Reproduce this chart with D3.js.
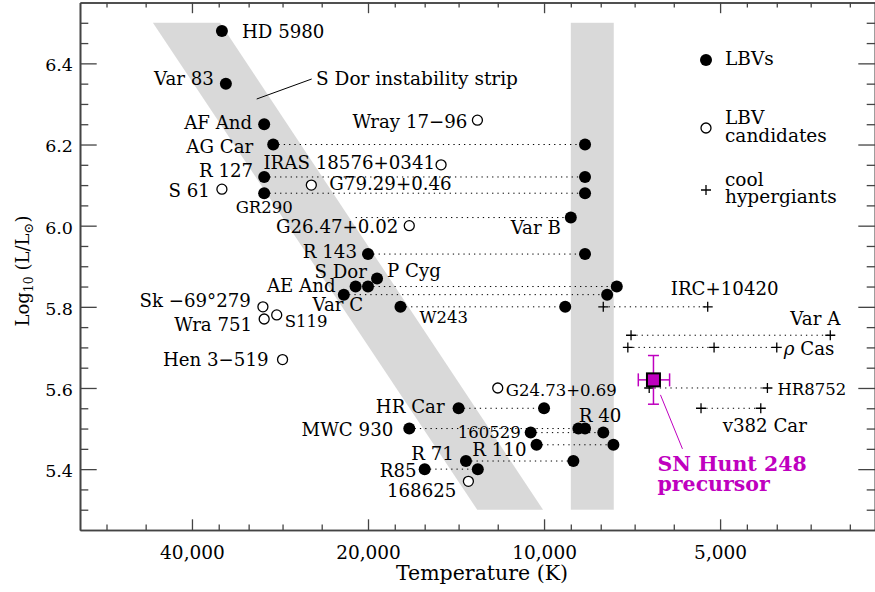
<!DOCTYPE html>
<html>
<head>
<meta charset="utf-8">
<script src="https://cdn.jsdelivr.net/npm/d3@7"></script>
<style>
  body { margin: 0; background: #fff; }
  svg text { font-family: 'DejaVu Serif', serif; fill: #000; }
  .axis path { stroke: #444; stroke-width: 1.6; }
  .axis line { stroke: #444; stroke-width: 1.3; }
  .axis text { font-family: 'DejaVu Serif', serif; }
</style>
</head>
<body>
<div id="chart"></div>
<script>
// ---- data ----
// LBVs, every drawn state (hot and cool states share a name)
let lbvName = ['HD 5980', 'Var 83', 'AF And', 'AG Car', 'AG Car', 'R 127', 'R 127', 'GR290', 'GR290',
  'Var B', 'R 143', 'R 143', 'P Cyg', 'S Dor', 'S Dor', 'AE And', 'Var C', 'Var C', 'W243', 'W243',
  'HR Car', 'HR Car', 'MWC 930', 'MWC 930', 'R 40', '160529', '160529', 'R 110', 'R 110',
  'R 71', 'R 71', 'R85', 'R85']
let lbvTemp = [35550, 35000, 30100, 29050, 8510, 30100, 8510, 30100, 8510,
  9000, 20000, 8510, 19300, 20000, 7510, 21000, 22000, 7800, 17600, 9200,
  14000, 10000, 17000, 8735, 8510, 10540, 7920, 10300, 7610,
  13600, 8910, 16000, 12980]
let lbvLum = [6.48, 6.35, 6.25, 6.20, 6.20, 6.12, 6.12, 6.08, 6.08,
  6.02, 5.93, 5.93, 5.87, 5.85, 5.85, 5.85, 5.83, 5.83, 5.80, 5.80,
  5.55, 5.55, 5.50, 5.50, 5.50, 5.49, 5.49, 5.46, 5.46,
  5.42, 5.42, 5.40, 5.40]

// Var B excursion starts where no symbol is drawn
let extraTracks = [{ name: 'Var B', from: 21000, to: 9000, lum: 6.02 }]

// LBV candidates
let candName = ['Wray 17\u221296', 'IRAS 18576+0341', 'S 61', 'G79.29+0.46', 'G26.47+0.02',
  'Sk \u221269\u00b0279', 'Wra 751', 'S119', 'Hen 3\u2212519', 'G24.73+0.69', '168625']
let candTemp = [13000, 15000, 35550, 25000, 17000, 30250, 30100, 28650, 28000, 12000, 13470]
let candLum = [6.26, 6.15, 6.09, 6.10, 6.00, 5.80, 5.77, 5.78, 5.67, 5.60, 5.37]

// cool hypergiants
let hgName = ['IRC+10420', 'Var A', '\u03c1 Cas', 'HR8752', 'v382 Car']
let hgTemps = [[7920, 5250], [7100, 3240], [7190, 5120, 4000], [6610, 4150], [5390, 4260]]
let hgLum = [5.80, 5.73, 5.70, 5.60, 5.55]

// SN Hunt 248 precursor
let snTemp = 6500
let snTempErr = 400
let snLum = 5.62
let snLumErr = 0.06

// shaded regions
let stripTop = { lum: 6.5, hot: 46650, cool: 35820 }
let stripBottom = { lum: 5.3, hot: 13010, cool: 10040 }
let bandTemp = [9000, 7600]
let bandLum = [5.3, 6.5]

// ticks
let xMajor = [40000, 20000, 10000, 5000]
let xMinor = [56000, 48000, 36000, 32000, 28000, 24000, 18000, 16000, 14000, 12000,
  9000, 8000, 7000, 6000, 4500, 4000, 3500, 3000]
let yMajor = [5.4, 5.6, 5.8, 6.0, 6.2, 6.4]
let yMinor = [5.30, 5.35, 5.45, 5.50, 5.55, 5.65, 5.70, 5.75, 5.85, 5.90, 5.95,
  6.05, 6.10, 6.15, 6.25, 6.30, 6.35, 6.45, 6.50]

// ---- layout ----
let width = 875
let height = 592
let plotLeft = 80, plotRight = 875, plotTop = 2.5, plotBottom = 530

// label placement: [dx, dy, anchor, small]
let labelPos = {
  'HD 5980': [20, 7, 'start'],
  'Var 83': [-12, 1, 'end'],
  'AF And': [-12, 5, 'end'],
  'AG Car': [-20, 8, 'end'],
  'R 127': [-11, 0, 'end'],
  'GR290': [0, 20, 'middle', true],
  'Var B': [-10, 16, 'end'],
  'R 143': [-11, 4, 'end'],
  'P Cyg': [10, -1, 'start'],
  'S Dor': [-1, -9, 'end'],
  'AE And': [-20, 5, 'end'],
  'Var C': [-6, 16, 'middle'],
  'W243': [19, 16, 'start', true],
  'HR Car': [-14, 5, 'end'],
  'MWC 930': [-16, 7, 'end'],
  'R 40': [15, -7, 'middle'],
  '160529': [-10, 5, 'end', true],
  'R 110': [-10, 11, 'end'],
  'R 71': [-12, -1, 'end'],
  'R85': [-8, 8, 'end'],
  'Wray 17\u221296': [-10, 8, 'end'],
  'IRAS 18576+0341': [-6, 4, 'end'],
  'S 61': [-12, 8, 'end'],
  'G79.29+0.46': [18, 5, 'start'],
  'G26.47+0.02': [-11, 7, 'end'],
  'Sk \u221269\u00b0279': [-12, 0, 'end'],
  'Wra 751': [-12, 12, 'end'],
  'S119': [8, 12, 'start', true],
  'Hen 3\u2212519': [-14, 6, 'end'],
  'G24.73+0.69': [8, 8, 'start', true],
  '168625': [-12, 16, 'end'],
  'IRC+10420': [-37, -12, 'start'],
  'Var A': [10, -10, 'end'],
  '\u03c1 Cas': [7, 8, 'start'],
  'HR8752': [10, 7, 'start', true],
  'v382 Car': [4, 24, 'middle']
}

let magenta = '#bf00bf'
let grey = '#d9d9d9'

let svg = d3
  .select('#chart')
  .append('svg')
  .attr('width', width)
  .attr('height', height)

let x = d3.scaleLog().domain([62160, 2717]).range([plotLeft, plotRight])
let y = d3.scaleLinear().domain([5.25, 6.55]).range([plotBottom, plotTop])

// shaded strips
svg
  .append('path')
  .attr('d', 'M' + [
    [x(stripTop.hot), y(stripTop.lum)],
    [x(stripTop.cool), y(stripTop.lum)],
    [x(stripBottom.cool), y(stripBottom.lum)],
    [x(stripBottom.hot), y(stripBottom.lum)]
  ].join('L') + 'Z')
  .attr('fill', grey)

svg
  .append('rect')
  .attr('x', x(bandTemp[0]))
  .attr('width', x(bandTemp[1]) - x(bandTemp[0]))
  .attr('y', y(bandLum[1]))
  .attr('height', y(bandLum[0]) - y(bandLum[1]))
  .attr('fill', grey)

// axes
function drawAxis(axis, transform, cls) {
  return svg.append('g').attr('class', 'axis ' + cls).attr('transform', transform).call(axis)
}

drawAxis(d3.axisBottom(x).tickValues(xMinor).tickSize(-5.5).tickSizeOuter(0).tickFormat(''),
  `translate(0,${plotBottom})`, 'minor')
drawAxis(d3.axisBottom(x).tickValues(xMajor).tickSize(-10.7).tickSizeOuter(0)
  .tickPadding(15.5).tickFormat(d3.format(',')), `translate(0,${plotBottom})`, 'xmajor')
drawAxis(d3.axisTop(x).tickValues(xMinor).tickSize(-5).tickSizeOuter(0).tickFormat(''),
  `translate(0,${plotTop})`, 'minor')
drawAxis(d3.axisTop(x).tickValues(xMajor).tickSize(-10.7).tickSizeOuter(0).tickFormat(''),
  `translate(0,${plotTop})`, 'minor')
drawAxis(d3.axisLeft(y).tickValues(yMinor).tickSize(-8.3).tickSizeOuter(0).tickFormat(''),
  `translate(${plotLeft},0)`, 'minor')
drawAxis(d3.axisLeft(y).tickValues(yMajor).tickSize(-16.7).tickSizeOuter(0)
  .tickPadding(7).tickFormat(d3.format('.1f')), `translate(${plotLeft},0)`, 'ymajor')
drawAxis(d3.axisRight(y).tickValues(yMinor).tickSize(-8.3).tickSizeOuter(0).tickFormat(''),
  `translate(${plotRight},0)`, 'minor')
drawAxis(d3.axisRight(y).tickValues(yMajor).tickSize(-16.7).tickSizeOuter(0).tickFormat(''),
  `translate(${plotRight},0)`, 'minor')

svg.selectAll('.xmajor text').attr('font-size', 18.5).attr('dy', '0.71em')
svg.selectAll('.ymajor text').attr('font-size', 17.5).attr('dy', '0.42em')

// axis titles
svg
  .append('text')
  .attr('x', 482)
  .attr('y', 580)
  .attr('text-anchor', 'middle')
  .attr('font-size', 20.5)
  .text('Temperature (K)')

let ylab = svg
  .append('text')
  .attr('transform', 'translate(29,271) rotate(-90)')
  .attr('text-anchor', 'middle')
  .attr('font-size', 18)
ylab.append('tspan').text('Log')
ylab.append('tspan').attr('font-size', 12.5).attr('dy', 4).text('10')
ylab.append('tspan').attr('dy', -4).text(' (L/L')
ylab.append('tspan').attr('font-size', 13).attr('dy', 4).text('\u2299')
ylab.append('tspan').attr('dy', -4).text(')')

// dotted excursion lines
let lbv = lbvName.map((d, i) => ({ name: d, temp: lbvTemp[i], lum: lbvLum[i] }))
let tracks = d3.groups(lbv, d => d.name)
  .filter(g => g[1].length > 1)
  .map(g => ({ name: g[0], from: d3.max(g[1], d => d.temp), to: d3.min(g[1], d => d.temp), lum: g[1][0].lum }))
  .concat(extraTracks)
  .concat(hgName.map((d, i) => ({ name: d, from: d3.max(hgTemps[i]), to: d3.min(hgTemps[i]), lum: hgLum[i] })))

svg
  .selectAll('.track')
  .data(tracks)
  .enter()
  .append('line')
  .attr('class', 'track')
  .attr('x1', d => x(d.from))
  .attr('x2', d => x(d.to))
  .attr('y1', d => y(d.lum))
  .attr('y2', d => y(d.lum))
  .attr('stroke', '#000')
  .attr('stroke-width', 1)
  .attr('stroke-dasharray', '1.3,4')

// cool hypergiants
let hg = []
hgName.forEach((d, i) => hgTemps[i].forEach(t => hg.push({ name: d, temp: t, lum: hgLum[i] })))

svg
  .selectAll('.hg')
  .data(hg)
  .enter()
  .append('path')
  .attr('class', 'hg')
  .attr('d', 'M-5,0H5M0,-5V5')
  .attr('transform', d => `translate(${x(d.temp)},${y(d.lum)})`)
  .attr('stroke', '#000')
  .attr('stroke-width', 1.3)

// LBV candidates
svg
  .selectAll('.cand')
  .data(candName)
  .enter()
  .append('circle')
  .attr('class', 'cand')
  .attr('cx', (d, i) => x(candTemp[i]))
  .attr('cy', (d, i) => y(candLum[i]))
  .attr('r', 5)
  .attr('fill', '#fff')
  .attr('stroke', '#000')
  .attr('stroke-width', 1.3)

// LBVs
svg
  .selectAll('.lbv')
  .data(lbv)
  .enter()
  .append('circle')
  .attr('class', 'lbv')
  .attr('cx', d => x(d.temp))
  .attr('cy', d => y(d.lum))
  .attr('r', 6)
  .attr('fill', '#000')

// labels, attached to first LBV state, candidate, coolest hypergiant point
let labelAnchors = []
d3.groups(lbv, d => d.name).forEach(g => labelAnchors.push(g[1][0]))
candName.forEach((d, i) => labelAnchors.push({ name: d, temp: candTemp[i], lum: candLum[i] }))
hgName.forEach((d, i) => labelAnchors.push({ name: d, temp: d3.min(hgTemps[i]), lum: hgLum[i] }))

let labels = svg
  .selectAll('.label')
  .data(labelAnchors)
  .enter()
  .append('text')
  .attr('class', 'label')
  .attr('x', d => x(d.temp) + labelPos[d.name][0])
  .attr('y', d => y(d.lum) + labelPos[d.name][1])
  .attr('text-anchor', d => labelPos[d.name][2])
  .attr('font-size', d => labelPos[d.name][3] ? 16.5 : 18.2)

labels.each(function (d) {
  let t = d3.select(this)
  if (d.name.startsWith('\u03c1')) {
    t.append('tspan').attr('font-style', 'italic').text('\u03c1')
    t.append('tspan').text(d.name.slice(1))
  } else {
    t.text(d.name)
  }
})

// S Dor strip annotation
svg
  .append('line')
  .attr('x1', 311.7).attr('y1', 79)
  .attr('x2', 256.7).attr('y2', 99)
  .attr('stroke', '#000')
  .attr('stroke-width', 1)
svg
  .append('text')
  .attr('x', 316)
  .attr('y', 85)
  .attr('font-size', 18.5)
  .text('S Dor instability strip')

// SN Hunt 248 precursor with error bars
let sx = x(snTemp), sy = y(snLum)
let xl = x(snTemp + snTempErr), xr = x(snTemp - snTempErr)
let yt = y(snLum + snLumErr), yb = y(snLum - snLumErr)
let sn = svg.append('g').attr('stroke', magenta).attr('stroke-width', 1.5)
sn.append('line').attr('x1', xl).attr('x2', xr).attr('y1', sy).attr('y2', sy)
sn.append('line').attr('x1', sx).attr('x2', sx).attr('y1', yt).attr('y2', yb)
sn.append('line').attr('x1', xl).attr('x2', xl).attr('y1', sy - 6.5).attr('y2', sy + 6.5)
sn.append('line').attr('x1', xr).attr('x2', xr).attr('y1', sy - 6.5).attr('y2', sy + 6.5)
sn.append('line').attr('x1', sx - 5.5).attr('x2', sx + 5.5).attr('y1', yt).attr('y2', yt)
sn.append('line').attr('x1', sx - 5.5).attr('x2', sx + 5.5).attr('y1', yb).attr('y2', yb)
sn.append('line').attr('x1', sx + 7).attr('y1', sy + 15).attr('x2', sx + 29).attr('y2', sy + 69)
  .attr('stroke-width', 1)
svg
  .append('rect')
  .attr('x', sx - 6.5)
  .attr('y', sy - 6.5)
  .attr('width', 13)
  .attr('height', 13)
  .attr('fill', magenta)
  .attr('stroke', '#000')
  .attr('stroke-width', 2)

let snText = svg.append('text')
  .attr('font-size', 20.5)
  .attr('font-weight', 'bold')
  .style('fill', magenta)
snText.append('tspan').attr('x', sx + 4).attr('y', sy + 91).text('SN Hunt 248')
snText.append('tspan').attr('x', sx + 4).attr('y', sy + 111).text('precursor')

// legend
let legend = svg.append('g').attr('font-size', 18.5)
legend.append('circle').attr('cx', 706).attr('cy', 60).attr('r', 6).attr('fill', '#000')
legend.append('text').attr('x', 725).attr('y', 65).text('LBVs')
legend.append('circle').attr('cx', 706).attr('cy', 128).attr('r', 5)
  .attr('fill', '#fff').attr('stroke', '#000').attr('stroke-width', 1.3)
let candText = legend.append('text')
candText.append('tspan').attr('x', 725).attr('y', 124).text('LBV')
candText.append('tspan').attr('x', 725).attr('y', 142).text('candidates')
legend.append('path').attr('d', 'M-5,0H5M0,-5V5').attr('transform', 'translate(706,190)')
  .attr('stroke', '#000').attr('stroke-width', 1.3)
let coolText = legend.append('text')
coolText.append('tspan').attr('x', 725).attr('y', 186).text('cool')
coolText.append('tspan').attr('x', 725).attr('y', 203).text('hypergiants')
</script>
</body>
</html>
